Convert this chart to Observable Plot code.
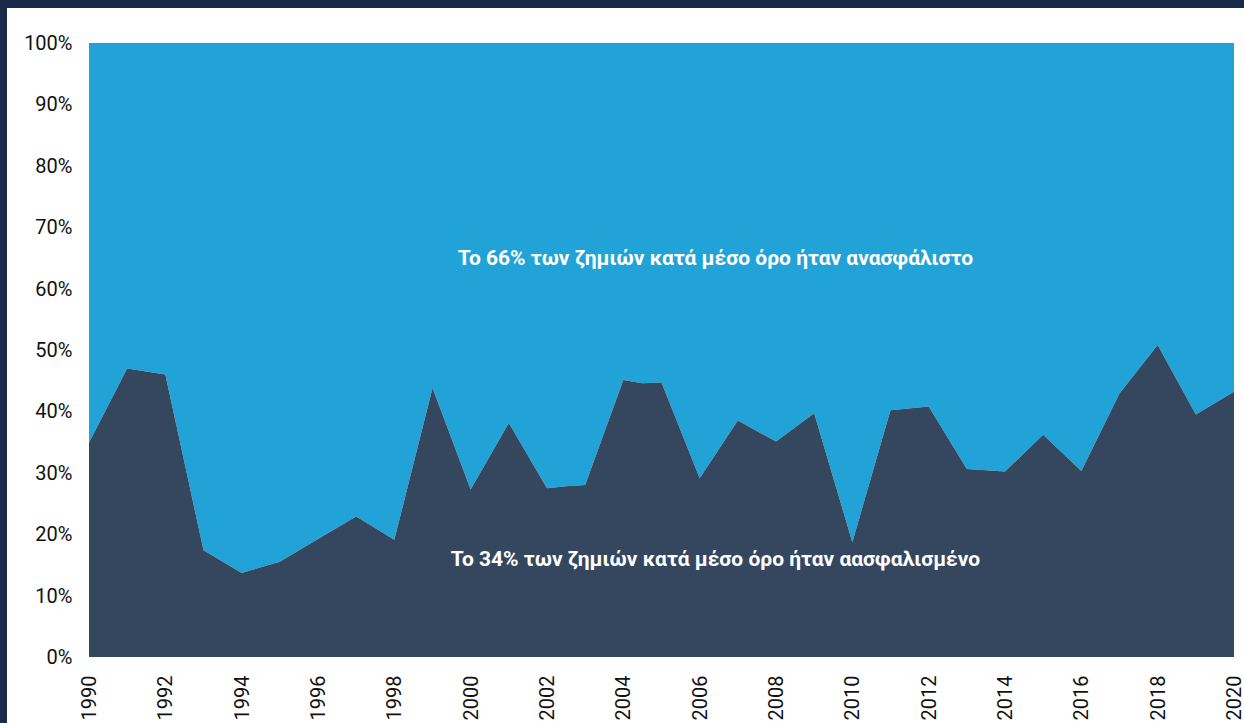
<!DOCTYPE html>
<html>
<head>
<meta charset="utf-8">
<script src="https://cdn.jsdelivr.net/npm/d3@7"></script>
<script src="https://cdn.jsdelivr.net/npm/@observablehq/plot@0.6"></script>
<style>
  html, body { margin: 0; padding: 0; background: #ffffff; }
  body { width: 1244px; height: 723px; overflow: hidden; position: relative; }
  #topband { position: absolute; left: 0; top: 0; width: 1244px; height: 8px; background: #1a2b48; }
  #leftband { position: absolute; left: 0; top: 0; width: 7px; height: 723px; background: #1a2b48; }
  #chart { position: absolute; left: 7px; top: 8px; }
</style>
</head>
<body>
<div id="topband"></div>
<div id="leftband"></div>
<div id="chart"></div>
<script>
// Years (two points sit between years in the source drawing)
const years = [1990, 1991, 1992, 1993, 1994, 1995, 1996, 1997, 1998, 1999, 2000, 2001, 2002, 2002.5, 2003, 2004, 2004.5, 2005, 2006, 2007, 2008, 2009, 2010, 2011, 2012, 2013, 2014, 2015, 2016, 2017, 2018, 2019, 2020];
// Share of losses that was insured (%)
const insured = [34.9, 47.0, 46.0, 17.4, 13.7, 15.5, 19.2, 22.9, 19.1, 43.8, 27.3, 38.1, 27.5, 27.8, 28.0, 45.1, 44.6, 44.7, 29.1, 38.5, 35.1, 39.7, 18.7, 40.2, 40.8, 30.6, 30.2, 36.2, 30.3, 42.9, 50.8, 39.5, 43.2];
const xTicks = [1990, 1992, 1994, 1996, 1998, 2000, 2002, 2004, 2006, 2008, 2010, 2012, 2014, 2016, 2018, 2020];
const yTicks = [0, 10, 20, 30, 40, 50, 60, 70, 80, 90, 100];
const labels = ["Το 66% των ζημιών κατά μέσο όρο ήταν ανασφάλιστο", "Το 34% των ζημιών κατά μέσο όρο ήταν αασφαλισμένο"];
const labelX = [2006.4, 2006.4];
const labelY = [65.1, 16.0];

const data = years.map((y, i) => ({year: y, insured: insured[i]}));
const notes = labels.map((t, i) => ({text: t, x: labelX[i], y: labelY[i]}));

const chart = Plot.plot({
  width: 1237,
  height: 715,
  marginLeft: 82,
  marginTop: 35,
  marginRight: 10,
  marginBottom: 66,
  style: {fontFamily: "Roboto, sans-serif", fontSize: "20px", color: "#111", background: "transparent"},
  x: {domain: [1990, 2020], ticks: xTicks, tickFormat: "d", tickSize: 0, tickPadding: 18, tickRotate: -90, label: null},
  y: {domain: [0, 100], ticks: yTicks, tickFormat: d => d + "%", tickSize: 0, tickPadding: 17, label: null},
  marks: [
    Plot.areaY(data, {x: "year", y1: "insured", y2: 100, fill: "#22a3d8"}),
    Plot.areaY(data, {x: "year", y1: 0, y2: "insured", fill: "#34475f"}),
    Plot.text(notes, {x: "x", y: "y", text: "text", fill: "white", fontWeight: "bold", fontSize: 21, textAnchor: "middle"})
  ]
});
document.getElementById("chart").appendChild(chart);
</script>
</body>
</html>
